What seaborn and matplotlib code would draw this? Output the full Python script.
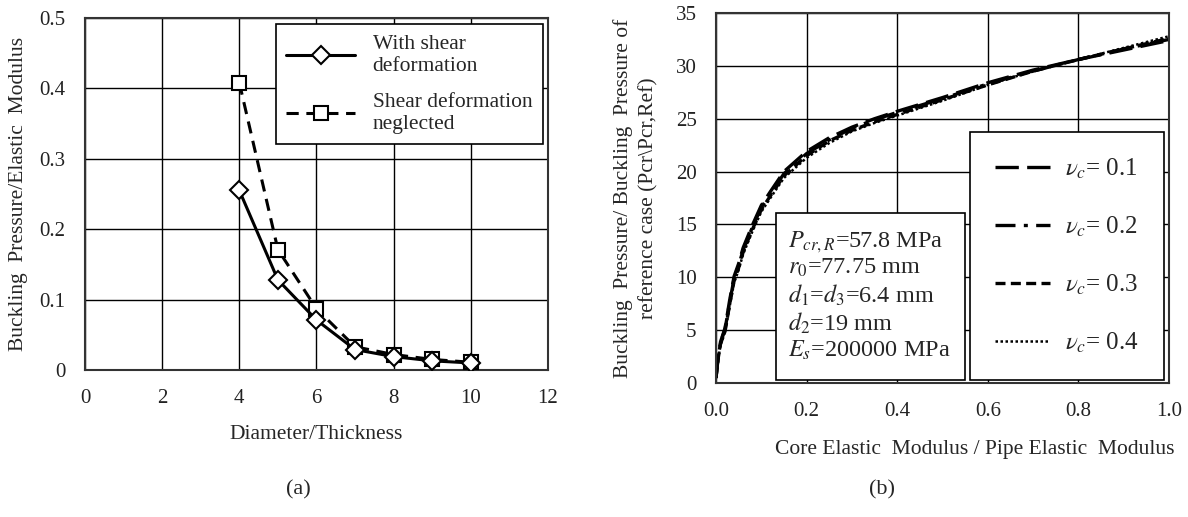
import numpy as np
import pandas as pd
import matplotlib
matplotlib.use("Agg")
import matplotlib.pyplot as plt
import seaborn as sns
from matplotlib.patches import Rectangle

# --- data (a) ---
dt_ratio = [4, 5, 6, 7, 8, 9, 10]
with_shear = [0.255, 0.128, 0.071, 0.029, 0.019, 0.013, 0.010]
shear_neglected = [0.408, 0.171, 0.087, 0.033, 0.022, 0.015, 0.011]

# --- data (b) ---
e_ratio = [0, 0.005, 0.01, 0.02, 0.03, 0.04, 0.05, 0.06, 0.08, 0.1, 0.12, 0.15,
           0.2, 0.25, 0.3, 0.35, 0.4, 0.5, 0.6, 0.7, 0.8, 0.9, 1.0]
nu_01 = [0.5, 2.6, 3.9, 5.2, 7.8, 10.1, 11.3, 12.8, 14.9, 16.8, 18.1, 20.0,
         21.9, 23.2, 24.2, 25.0, 25.7, 27.0, 28.4, 29.6, 30.6, 31.5, 32.4]
nu_02 = [0.5, 2.5, 3.8, 5.1, 7.6, 9.9, 11.1, 12.6, 14.7, 16.6, 17.9, 19.8,
         21.7, 23.0, 24.1, 24.9, 25.6, 26.9, 28.3, 29.5, 30.6, 31.6, 32.5]
nu_03 = [0.5, 2.4, 3.7, 4.9, 7.4, 9.7, 10.9, 12.4, 14.5, 16.4, 17.7, 19.6,
         21.5, 22.9, 23.9, 24.7, 25.4, 26.8, 28.2, 29.5, 30.6, 31.6, 32.6]
nu_04 = [0.4, 2.3, 3.6, 4.8, 7.2, 9.5, 10.7, 12.2, 14.3, 16.2, 17.5, 19.4,
         21.3, 22.7, 23.8, 24.6, 25.3, 26.7, 28.2, 29.5, 30.6, 31.7, 32.8]
nu_labels = ["$\\nu_c$= 0.1", "$\\nu_c$= 0.2", "$\\nu_c$= 0.3", "$\\nu_c$= 0.4"]

sns.set_style("white")
plt.rcParams['font.family'] = ['Liberation Serif', 'DejaVu Serif']
plt.rcParams['mathtext.fontset'] = 'stix'

fig = plt.figure(figsize=(11.88, 5.17), dpi=100)
ax1 = fig.add_axes([85/1188, 1-370/517, 463/1188, 352/517])
ax2 = fig.add_axes([716/1188, 1-383/517, 453/1188, 370/517])

# --- pannello (a) ---
df_a = pd.DataFrame({"x": dt_ratio, "ws": with_shear, "sn": shear_neglected})
sns.lineplot(data=df_a, x="x", y="sn", ax=ax1, color="black", lw=2.2,
             marker="s", markersize=10, markerfacecolor="white",
             markeredgecolor="black", markeredgewidth=1.5,
             label="Shear deformation\nneglected", zorder=3)
ax1.lines[-1].set_dashes((4, 2.5))
sns.lineplot(data=df_a, x="x", y="ws", ax=ax1, color="black", lw=2.2,
             marker="D", markersize=9, markerfacecolor="white",
             markeredgecolor="black", markeredgewidth=1.5,
             label="With shear\ndeformation", zorder=4)
h, l = ax1.get_legend_handles_labels()
ax1.legend(h[::-1], l[::-1], loc="upper right", bbox_to_anchor=(0.989, 0.983),
           borderaxespad=0, fontsize=15.5, frameon=True, fancybox=False,
           edgecolor="black", framealpha=1, handlelength=3.2,
           labelspacing=0.8, borderpad=0.5)
ax1.get_legend().get_frame().set_linewidth(1.2)

ax1.set_xlim(0, 12)
ax1.set_ylim(0, 0.5)
ax1.set_xticks(range(0, 13, 2))
ax1.set_yticks([0, 0.1, 0.2, 0.3, 0.4, 0.5])
ax1.set_yticklabels(["0", "0.1", "0.2", "0.3", "0.4", "0.5"])
ax1.set_xlabel("Diameter/Thickness", fontsize=15.5, labelpad=12)
ax1.set_ylabel("Buckling  Pressure/Elastic  Modulus", fontsize=15.5, labelpad=8)

# --- pannello (b) ---
stili = [(7, 2.5), (6, 2.5, 1.2, 2.5), (3, 1.6), (1, 1)]
larghezze = [2.4, 2.4, 2.4, 1.8]
for serie, lab, st, lw in zip([nu_01, nu_02, nu_03, nu_04], nu_labels, stili, larghezze):
    df_b = pd.DataFrame({"x": e_ratio, "y": serie})
    sns.lineplot(data=df_b, x="x", y="y", ax=ax2, color="black", lw=lw, label=lab)
    ax2.lines[-1].set_dashes(st)

leg2 = ax2.legend(loc="lower right", bbox_to_anchor=(0.989, 0.008), borderaxespad=0,
                  fontsize=18, frameon=True, fancybox=False, edgecolor="black",
                  framealpha=1, handlelength=2.2, labelspacing=1.35, borderpad=1.0,
                  handletextpad=0.6)
leg2.get_frame().set_linewidth(1.2)

ax2.add_patch(Rectangle((0.132, 0.008), 0.417, 0.452, transform=ax2.transAxes,
                        facecolor="white", edgecolor="black", lw=1.2, zorder=5))
ax2.text(0.16, 0.236,
         "$P_{cr,R}$=57.8 MPa\n$r_0$=77.75 mm\n$d_1$=$d_3$=6.4 mm\n$d_2$=19 mm\n$E_s$=200000 MPa",
         transform=ax2.transAxes, fontsize=17.5, va="center", ha="left",
         linespacing=1.15, zorder=6)

ax2.set_xlim(0, 1.0)
ax2.set_ylim(0, 35)
ax2.set_xticks(np.arange(0, 1.01, 0.2))
ax2.set_xticklabels(["0.0", "0.2", "0.4", "0.6", "0.8", "1.0"])
ax2.set_yticks(range(0, 36, 5))
ax2.set_xlabel("Core Elastic  Modulus / Pipe Elastic  Modulus", fontsize=15.5)
ax2.xaxis.set_label_coords(0.572, -0.155)
ax2.set_ylabel("Buckling  Pressure/ Buckling  Pressure of\nreference case (Pcr\\Pcr,Ref)",
               fontsize=15.5, linespacing=1.45, labelpad=12)

for ax in (ax1, ax2):
    ax.grid(True, color="black", lw=1.0)
    ax.set_axisbelow(True)
    ax.tick_params(length=0, pad=14, labelsize=15, labelcolor="#222222")
    for s in ax.spines.values():
        s.set_color("#333333")
        s.set_linewidth(1.5)

fig.text(298/1188, 1-490/517, "(a)", fontsize=16, ha="center", va="center")
fig.text(882/1188, 1-490/517, "(b)", fontsize=16, ha="center", va="center")

fig.savefig("out.png", dpi=100)
